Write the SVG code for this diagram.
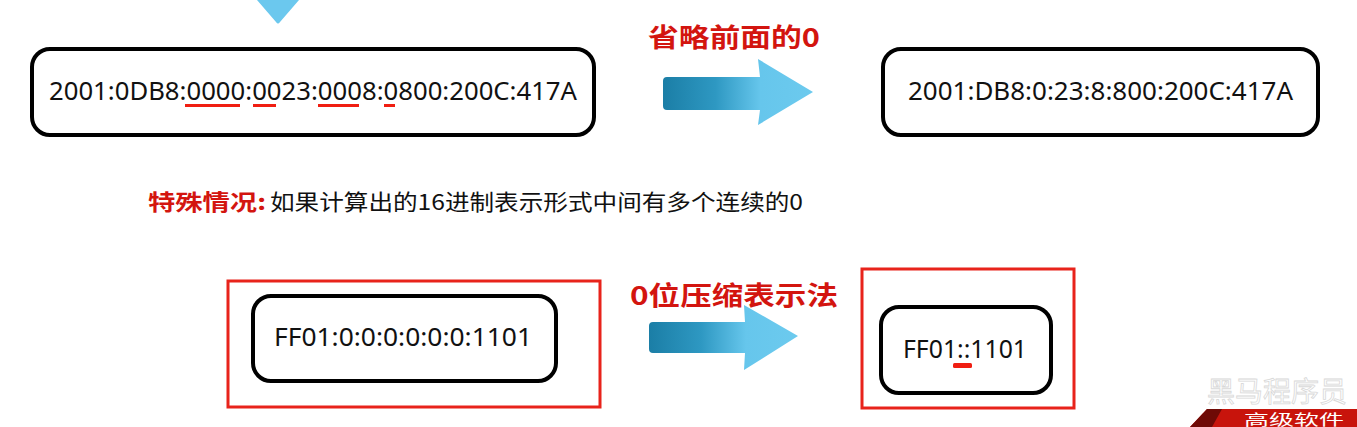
<svg xmlns="http://www.w3.org/2000/svg" width="1357" height="427" viewBox="0 0 1357 427">
<defs>
<linearGradient id="ag" x1="0" y1="0" x2="1" y2="0">
<stop offset="0" stop-color="#1b7ea6"/>
<stop offset="0.35" stop-color="#2e98c2"/>
<stop offset="0.65" stop-color="#66c6ec"/>
<stop offset="1" stop-color="#6ccaee"/>
</linearGradient>
<style>
.box{fill:#fff;stroke:#000;stroke-width:4}
.hl{fill:none;stroke:#e8231b;stroke-width:3}
.ul{fill:#f01e12}
.t{font-family:"Noto Sans","Liberation Sans",sans-serif;fill:#111}
.cn{font-family:"Noto Sans CJK SC",sans-serif}
.lbl{font-family:"Noto Sans CJK SC",sans-serif;font-weight:bold;fill:#d3150f}
</style>
</defs>
<rect width="1357" height="427" fill="#fff"/>
<path d="M257 0 L299 0 L280 22 Q278 25 276 22 Z" fill="#6bc8ee"/>
<g id="full-address">
<rect class="box" x="32" y="49" width="562" height="86" rx="18"/>
<text class="t" x="49" y="100" font-size="25" textLength="528" lengthAdjust="spacingAndGlyphs">2001:0DB8:0000:0023:0008:0800:200C:417A</text>
<rect class="ul" x="185" y="104" width="55" height="3"/>
<rect class="ul" x="253" y="104" width="23" height="3"/>
<rect class="ul" x="318" y="104" width="41" height="3"/>
<rect class="ul" x="384" y="104" width="11" height="3"/>
</g>
<g id="short-address">
<rect class="box" x="883" y="49" width="435" height="86" rx="18"/>
<text class="t" x="908" y="100" font-size="25" textLength="385" lengthAdjust="spacingAndGlyphs">2001:DB8:0:23:8:800:200C:417A</text>
</g>
<g id="note">
<text x="148" y="210" font-size="22" class="cn" font-weight="bold" fill="#d3150f" textLength="118" lengthAdjust="spacingAndGlyphs">特殊情况:</text>
<text x="270" y="210" font-size="22" class="cn" fill="#111" textLength="533" lengthAdjust="spacingAndGlyphs">如果计算出的16进制表示形式中间有多个连续的0</text>
</g>
<g id="zero-address">
<rect class="hl" x="228" y="281" width="372" height="126"/>
<rect class="box" x="253" y="296" width="303" height="85" rx="18"/>
<text class="t" x="274" y="346" font-size="25" textLength="258" lengthAdjust="spacingAndGlyphs">FF01:0:0:0:0:0:0:1101</text>
</g>
<g id="compressed-address">
<rect class="hl" x="862" y="269" width="212" height="139"/>
<rect class="box" x="881" y="307" width="170" height="86" rx="18"/>
<text class="t" x="903" y="358" font-size="25" textLength="124" lengthAdjust="spacingAndGlyphs">FF01::1101</text>
<rect class="ul" x="953" y="363" width="19" height="5" rx="1.5"/>
</g>
<g id="connectors">
<g id="arrow-omit">
<path d="M667 77 L760 77 L758 59 L813 92 L758 125 L760 110 L667 110 Q663 110 663 106 L663 81 Q663 77 667 77 Z" fill="url(#ag)"/>
<text class="lbl" x="648" y="47" font-size="26" textLength="172" lengthAdjust="spacingAndGlyphs">省略前面的0</text>
</g>
<g id="arrow-compress">
<path d="M653 322 L745 322 L744 305 L798 336 L744 370 L745 353 L653 353 Q649 353 649 349 L649 326 Q649 322 653 322 Z" fill="url(#ag)"/>
<text class="lbl" x="630" y="305" font-size="26" textLength="208" lengthAdjust="spacingAndGlyphs">0位压缩表示法</text>
</g>
</g>
<g id="watermark">
<text x="1207" y="402" font-size="28" class="cn" fill="#fff" stroke="#d8d8d8" stroke-width="0.8">黑马程序员</text>
<path d="M1207 409 L1357 409 L1357 427 L1190 427 Z" fill="#c8140c"/>
<path d="M1207 409 L1222 409 L1212 427 L1190 427 Z" fill="#6e0a06"/>
<text x="1244" y="425" font-size="15" class="cn" fill="#fff" textLength="100" lengthAdjust="spacingAndGlyphs">高级软件</text>
</g>
</svg>
